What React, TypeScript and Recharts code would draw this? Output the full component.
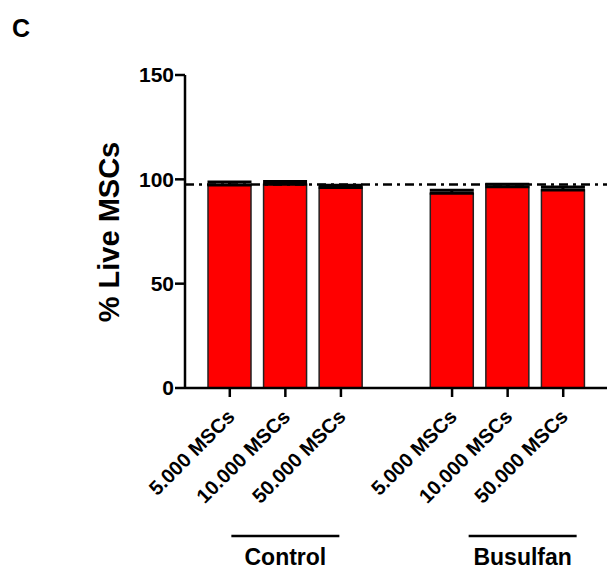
import React from "react";
import {
  BarChart,
  Bar,
  XAxis,
  YAxis,
  ErrorBar,
  ReferenceLine,
} from "recharts";

// seven slots: three Control, one empty spacer, three Busulfan
const categories = [
  "5.000 MSCs",
  "10.000 MSCs",
  "50.000 MSCs",
  "",
  "5.000 MSCs",
  "10.000 MSCs",
  "50.000 MSCs",
];
const liveMscs = [97.3, 97.7, 96.1, null, 93.3, 96.4, 94.9];
const sem = [1.4, 1.3, 1.1, null, 1.5, 1.2, 1.4];
// group label sits under the middle bar of each group
const groups = ["", "Control", "", "", "", "Busulfan", ""];
const yTicks = [0, 50, 100, 150];
const referenceLevel = 97.5;

const data = categories.map((name, i) => ({
  name,
  value: liveMscs[i],
  err: sem[i] == null ? null : [0, sem[i]],
}));

const FONT = "'Liberation Sans', Arial, sans-serif";

// the Busulfan bracket is nudged right in the original figure
const groupShift: Record<string, number> = { Control: 0, Busulfan: 15 };

function XTick(props: any) {
  const { x, y, payload, index } = props;
  const label = payload.value as string;
  if (!label) return null;
  const groupName = groups[index] ?? "";
  const ax = x + 6;
  const ay = y + 22;
  const gx = x + (groupShift[groupName] ?? 0);
  return (
    <g>
      <line x1={x} x2={x} y1={y - 8} y2={y + 1} stroke="#000" strokeWidth={2.5} />
      <text
        x={ax}
        y={ay}
        transform={`rotate(-45, ${ax}, ${ay})`}
        textAnchor="end"
        fontFamily={FONT}
        fontWeight="bold"
        fontSize={20}
        fill="#000"
      >
        {label}
      </text>
      {groupName && (
        <g>
          <line
            x1={gx - 54}
            x2={gx + 54}
            y1={y + 140}
            y2={y + 140}
            stroke="#000"
            strokeWidth={2.5}
          />
          <text
            x={gx}
            y={y + 169}
            textAnchor="middle"
            fontFamily={FONT}
            fontWeight="bold"
            fontSize={23}
            fill="#000"
          >
            {groupName}
          </text>
        </g>
      )}
    </g>
  );
}

export default function App() {
  return (
    <div
      style={{
        position: "absolute",
        left: 0,
        top: 0,
        width: 607,
        height: 573,
        background: "#fff",
      }}
    >
      <BarChart
        width={607}
        height={573}
        data={data}
        margin={{ top: 75, right: 0, bottom: 0, left: 0 }}
        barCategoryGap={0}
      >
        <XAxis
          dataKey="name"
          interval={0}
          tickLine={false}
          tick={<XTick />}
          axisLine={{ stroke: "#000", strokeWidth: 2.5 }}
          padding={{ left: 17, right: 16 }}
          height={185}
        />
        <YAxis
          width={185}
          domain={[0, 150]}
          ticks={yTicks}
          interval={0}
          tickSize={10}
          tickMargin={1}
          tickLine={{ stroke: "#000", strokeWidth: 2.5 }}
          axisLine={{ stroke: "#000", strokeWidth: 2.5 }}
          tick={{
            fill: "#000",
            fontSize: 21,
            fontWeight: "bold",
            fontFamily: FONT,
          }}
        />
        <Bar
          dataKey="value"
          fill="#ff0000"
          stroke="#222"
          strokeWidth={1.5}
          barSize={43}
          isAnimationActive={false}
        >
          <ErrorBar
            dataKey="err"
            direction="y"
            width={22}
            stroke="#000"
            strokeWidth={3}
          />
        </Bar>
        <ReferenceLine
          y={referenceLevel}
          stroke="#000"
          strokeWidth={2.5}
          strokeDasharray="9 5 3 5"
        />
      </BarChart>
      <svg
        width={607}
        height={573}
        style={{ position: "absolute", left: 0, top: 0, pointerEvents: "none" }}
      >
        <text
          x={12}
          y={37}
          fontFamily={FONT}
          fontWeight="bold"
          fontSize={25}
          fill="#000"
        >
          C
        </text>
        <text
          x={119}
          y={232}
          transform="rotate(-90, 119, 232)"
          textAnchor="middle"
          fontFamily={FONT}
          fontWeight="bold"
          fontSize={29}
          fill="#000"
        >
          % Live MSCs
        </text>
      </svg>
    </div>
  );
}
